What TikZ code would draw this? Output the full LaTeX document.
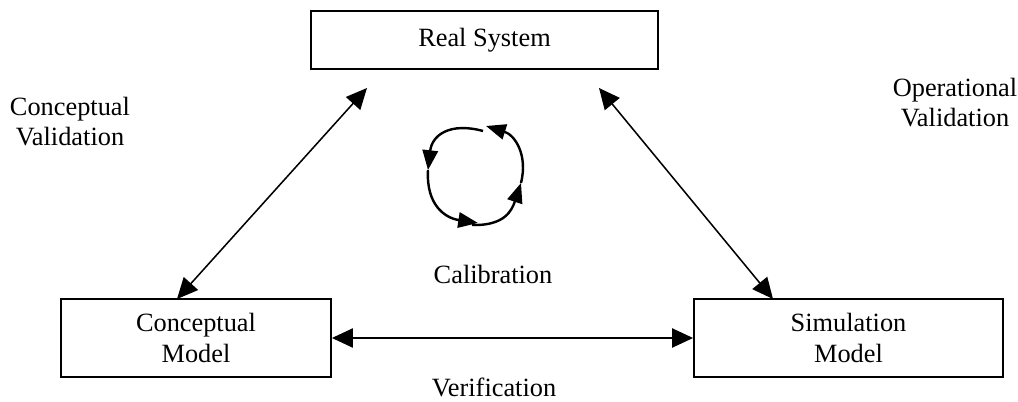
\documentclass[tikz,border=0pt]{standalone}
\usepackage{fontspec}
\setmainfont{Liberation Serif}
\usetikzlibrary{arrows.meta}
\tikzset{
	box/.style={draw, line width=0.9pt, inner sep=0pt, align=center},
	lbl/.style={align=center},
	link/.style={{Triangle[length=9.5pt,width=8.7pt]}-{Triangle[length=9.5pt,width=8.7pt]}, line width=0.7pt},
	calib/.style={-{Triangle[length=9pt,width=7pt]}, line width=1.1pt},
}
\begin{document}
\begin{tikzpicture}[x=0.016cm, y=-0.016cm, font=\fontsize{12}{13.7}\selectfont]
	\useasboundingbox (0,0) rectangle (1018,402);
	% the three boxes
	\node[box, minimum width=5.552cm, minimum height=0.928cm](rs) at (484.5,40) {Real System};
	\node[box, minimum width=4.32cm, minimum height=1.248cm](cm) at (196,338) {Conceptual\\Model};
	\node[box, minimum width=4.944cm, minimum height=1.248cm](sm) at (848.5,338) {Simulation\\Model};

	% labels
	\node[lbl](cv) at (70,121.5) {Conceptual\\Validation};
	\node[lbl](ov) at (955,102.5) {Operational\\Validation};
	\node[anchor=base](cal) at (493,284) {Calibration};
	\node[anchor=base](ver) at (494,397) {Verification};

	% validation and verification arrows
	\coordinate (cvtop) at (367,88);
	\coordinate (cvbot) at (177,299);
	\coordinate (ovtop) at (599,88);
	\coordinate (ovbot) at (773,299);
	\draw[link](cvtop) -- (cvbot);
	\draw[link](ovtop) -- (ovbot);
	\draw[link](cm.east) -- (sm.west);

	% calibration loop
	\coordinate (c1) at (483,131);
	\coordinate (c2) at (428,170);
	\coordinate (c3) at (478,223);
	\coordinate (c3b) at (472,225);
	\coordinate (c4) at (521,183);
	\coordinate (c5) at (486,126);
	\draw[calib](c1) .. controls (450,122) and (432,135) .. (c2);
	\draw[calib](c2) .. controls (426,205) and (445,218) .. (c3);
	\draw[calib](c3b) .. controls (505,226) and (512,210) .. (c4);
	\draw[calib](c4) .. controls (528,155) and (515,135) .. (c5);
\end{tikzpicture}
\end{document}
